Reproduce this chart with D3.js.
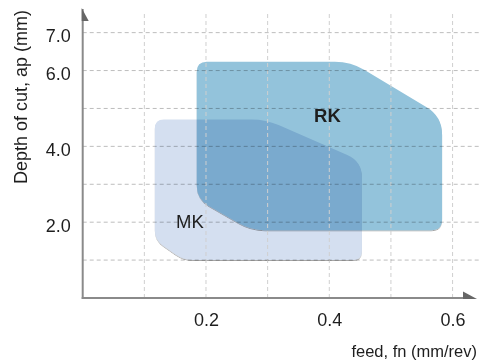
<!DOCTYPE html>
<html><head><meta charset="utf-8">
<script src="https://cdn.jsdelivr.net/npm/d3@7"></script>
<style>
html,body{margin:0;padding:0;background:#fff;}
svg{display:block;font-family:"Liberation Sans",Arial,Helvetica,sans-serif;}
</style></head>
<body><svg id="chart" width="481" height="363"></svg>
<script>
// ---- data ----
const xTicks = [0.2, 0.4, 0.6];
const yTicks = [2, 4, 6, 7];
const xGrid = [0.1, 0.2, 0.3, 0.4, 0.5, 0.6];
const yGrid = [1, 2, 3, 4, 5, 6, 7];
const regionNames = ["MK", "RK"];
// outline vertices of each application area (feed mm/rev, depth mm)
const mkFeed  = [0.117, 0.297, 0.453, 0.453, 0.164, 0.117];
const mkDepth = [4.71, 4.71, 3.60, 1.00, 1.00, 1.53];
const rkFeed  = [0.185, 0.435, 0.583, 0.583, 0.273, 0.185];
const rkDepth = [6.23, 6.23, 4.79, 1.79, 1.79, 2.61];
const mkLabel = [0.174, 1.85];
const rkLabel = [0.397, 4.65];

// ---- layout / style ----
const W = 481, H = 363;
const x = d3.scaleLinear().domain([0, 0.638]).range([82.7, 476]);
const y = d3.scaleLinear().domain([0, 7.65]).range([298, 8]);
const svg = d3.select("#chart");

const defs = svg.append("defs");
const f = defs.append("filter").attr("id","sh").attr("x","-10%").attr("y","-10%").attr("width","120%").attr("height","130%");
f.append("feDropShadow").attr("dx",0).attr("dy",1).attr("stdDeviation",0.7)
 .attr("flood-color","#000").attr("flood-opacity",0.35);

function roundedPath(pts, radii){
  const n = pts.length;
  let d = "";
  for (let i=0;i<n;i++){
    const p = pts[i], prev = pts[(i-1+n)%n], next = pts[(i+1)%n];
    const r = radii[i];
    const v1 = [prev[0]-p[0], prev[1]-p[1]], v2 = [next[0]-p[0], next[1]-p[1]];
    const l1 = Math.hypot(...v1), l2 = Math.hypot(...v2);
    const a = [p[0]+v1[0]/l1*r, p[1]+v1[1]/l1*r];
    const b = [p[0]+v2[0]/l2*r, p[1]+v2[1]/l2*r];
    d += (i===0? "M":"L") + a[0]+","+a[1] + "Q" + p[0]+","+p[1]+" "+b[0]+","+b[1];
  }
  return d + "Z";
}

const shapes = [
  {name: regionNames[0], fx: mkFeed, fy: mkDepth, fill: "#d4dff0", radii: [9,14,16,9,10,10]},
  {name: regionNames[1], fx: rkFeed, fy: rkDepth, fill: "#93c3db", radii: [10,16,18,11,14,14]}
];
const gShapes = svg.append("g").style("isolation","isolate");
shapes.forEach(s => {
  const pts = s.fx.map((v,i)=>[x(v), y(s.fy[i])]);
  gShapes.append("path").attr("d", roundedPath(pts, s.radii))
    .attr("fill", s.fill).attr("filter","url(#sh)")
    .style("mix-blend-mode","multiply");
});

// grid
const grid = svg.append("g");
grid.selectAll(".vg").data(xGrid).join("line")
  .attr("x1", d=>x(d)).attr("x2", d=>x(d)).attr("y1", y(0)).attr("y2", 13)
  .attr("stroke", "#cfcfcf").attr("stroke-width", 1).attr("stroke-dasharray","4,3");
grid.selectAll(".hg").data(yGrid).join("line")
  .attr("x1", x(0)).attr("x2", W).attr("y1", d=>y(d)).attr("y2", d=>y(d))
  .attr("stroke", "#bdbdbd").attr("stroke-width", 1).attr("stroke-dasharray","4,3")
  .style("mix-blend-mode","multiply");

// axes
const axCol = "#8a8a8a";
svg.append("line").attr("x1", x(0)).attr("x2", x(0)).attr("y1", y(0)+1).attr("y2", 9)
  .attr("stroke", axCol).attr("stroke-width", 2);
svg.append("line").attr("x1", x(0)-1).attr("x2", 470).attr("y1", y(0)).attr("y2", y(0))
  .attr("stroke", axCol).attr("stroke-width", 2);
svg.append("path").attr("d", `M${x(0)-1},8 L${x(0)+6},21 L${x(0)-1},21 Z`).attr("fill", "#666");
svg.append("path").attr("d", `M463,291.5 L477,${y(0)+1} L463,${y(0)+1} Z`).attr("fill", "#666");

// tick labels via d3 axes (domain/ticks hidden)
const xAxis = svg.append("g").attr("transform", `translate(0,${y(0)})`)
  .call(d3.axisBottom(x).tickValues(xTicks).tickFormat(d3.format(".1f")).tickSize(0).tickPadding(28));
const yAxis = svg.append("g").attr("transform", `translate(${x(0)},0)`)
  .call(d3.axisLeft(y).tickValues(yTicks).tickFormat(d3.format(".1f")).tickSize(0).tickPadding(12));
[xAxis, yAxis].forEach(g => {
  g.select(".domain").remove();
  g.selectAll("text").attr("font-size", 18).attr("fill", "#1e1e1e")
   .attr("font-family", '"Liberation Sans",Arial,sans-serif');
});
yAxis.selectAll("text").attr("dy", "0.5em");
xAxis.selectAll("text").attr("dy", "0");

// axis titles
svg.append("text").attr("x", 477).attr("y", 357).attr("text-anchor","end")
  .attr("font-size", 16.5).attr("fill", "#1e1e1e").text("feed, fn (mm/rev)");
svg.append("text").attr("transform", "translate(27,97) rotate(-90)").attr("text-anchor","middle")
  .attr("font-size", 18).attr("fill", "#1e1e1e").text("Depth of cut, ap (mm)");

// region labels
svg.append("text").attr("x", x(rkLabel[0])).attr("y", y(rkLabel[1])).attr("text-anchor","middle")
  .attr("font-size", 18.5).attr("font-weight","bold").attr("fill","#1e1e1e").text(regionNames[1]);
svg.append("text").attr("x", x(mkLabel[0])).attr("y", y(mkLabel[1])).attr("text-anchor","middle")
  .attr("font-size", 18.5).attr("fill","#1e1e1e").text(regionNames[0]);
</script></body></html>
